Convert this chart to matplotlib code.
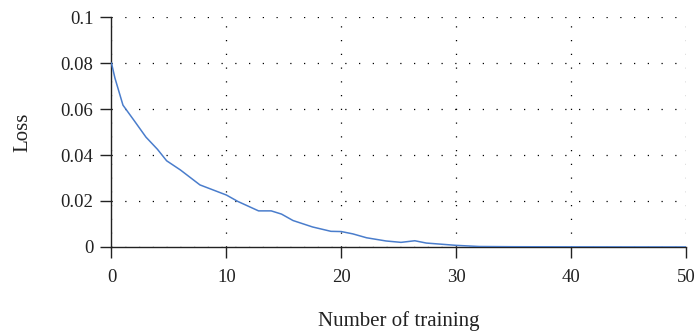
import matplotlib.pyplot as plt

# training loss curve
epochs = [0, 0.3, 1, 2, 3, 4, 4.8, 6, 7.7, 10, 11, 12.8, 13.9, 14.8, 15.8,
          17.5, 19.1, 20, 21, 22.2, 23.9, 25.2, 26.4, 27.4, 30, 32, 35, 40, 45, 50]
loss = [0.08, 0.0735, 0.0617, 0.0548, 0.0478, 0.0425, 0.0375, 0.0335, 0.027,
        0.0226, 0.0198, 0.0157, 0.0157, 0.0143, 0.0115, 0.0087, 0.0068, 0.0067,
        0.0057, 0.004, 0.0026, 0.002, 0.0027, 0.0017, 0.0007, 0.0002, 0.0001,
        0.00005, 0.00002, 0.0]

x_ticks = [0, 10, 20, 30, 40, 50]
y_ticks = [0, 0.02, 0.04, 0.06, 0.08, 0.1]
y_labels = ["0", "0.02", "0.04", "0.06", "0.08", "0.1"]

plt.rcParams['font.family'] = ['Liberation Serif', 'DejaVu Serif']

fig = plt.figure(figsize=(6.95, 3.36), dpi=100)
ax = fig.add_axes([0.1604, 0.265, 0.8266, 0.684])

ax.plot(epochs, loss, color="#4a7dcc", linewidth=1.1, zorder=3)

ax.set_xlim(0, 50)
ax.set_ylim(0, 0.1)
ax.set_xticks(x_ticks)
ax.set_xticklabels([str(t) for t in x_ticks])
ax.set_yticks(y_ticks)
ax.set_yticklabels(y_labels)

ax.grid(True, color="black", linestyle=(0, (1, 10)), linewidth=0.9)
for s in ["top", "right"]:
    ax.spines[s].set_visible(False)
for s in ["left", "bottom"]:
    ax.spines[s].set_linewidth(1.0)
    ax.spines[s].set_color("#222222")

ax.tick_params(axis="both", direction="out", length=8, width=1.0,
               labelsize=13.5, colors="#222222")
ax.tick_params(axis="x", pad=8)
ax.tick_params(axis="y", pad=5)

ax.set_xlabel("Number of training", fontsize=15, labelpad=18, color="#222222")
ax.set_ylabel("Loss", fontsize=15, labelpad=20, color="#222222")

fig.savefig("out.png", dpi=100)
